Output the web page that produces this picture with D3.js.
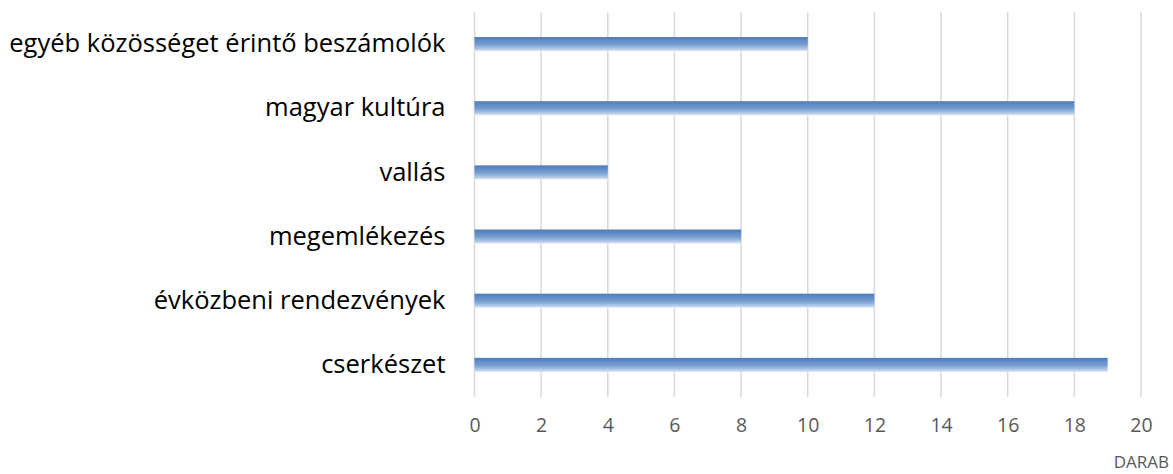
<!DOCTYPE html>
<html lang="hu">

<head>
  <meta charset="UTF-8">
  <title>Beszámolók</title>
  <script src="https://cdn.jsdelivr.net/npm/d3@7"></script>
  <style>
    body { margin: 0; background: #fff; }
    svg { display: block; }
    svg text { font-family: "Open Sans", "DejaVu Sans", sans-serif; }
  </style>
</head>

<body>
  <svg width="1173" height="474"></svg>
</body>
<script>
  const categories = [
    'egyéb közösséget érintő beszámolók',
    'magyar kultúra',
    'vallás',
    'megemlékezés',
    'évközbeni rendezvények',
    'cserkészet'
  ];
  const values = [10, 18, 4, 8, 12, 19];
  const xTicks = [0, 2, 4, 6, 8, 10, 12, 14, 16, 18, 20];
  const axisTitle = 'DARAB';

  const svg = d3.select('svg');
  const margin = { top: 12, right: 32, bottom: 77, left: 474.5 };
  const innerWidth = 1141 - margin.left;
  const innerHeight = 397 - margin.top;

  const g = svg.append('g')
    .attr('transform', `translate(${margin.left},${margin.top})`);

  const x = d3.scaleLinear().domain([0, 20]).range([0, innerWidth]);
  const y = d3.scaleBand().domain(categories).range([0, innerHeight]).paddingInner(0.78).paddingOuter(0.39);

  // gradient for the bars
  const grad = svg.append('defs').append('linearGradient')
    .attr('id', 'barGrad').attr('x1', 0).attr('y1', 0).attr('x2', 0).attr('y2', 1);
  grad.append('stop').attr('offset', '0%').attr('stop-color', '#4a7cbd');
  grad.append('stop').attr('offset', '55%').attr('stop-color', '#7a9fd2');
  grad.append('stop').attr('offset', '85%').attr('stop-color', '#b4c9e8');
  grad.append('stop').attr('offset', '100%').attr('stop-color', '#e3ebf6');

  // gridlines
  g.append('g')
    .selectAll('line')
    .data(xTicks)
    .join('line')
    .attr('x1', d => x(d)).attr('x2', d => x(d))
    .attr('y1', 0).attr('y2', innerHeight)
    .attr('stroke', '#d9d9d9')
    .attr('stroke-width', 1.5);

  // bars
  g.append('g')
    .selectAll('rect')
    .data(categories)
    .join('rect')
    .attr('x', x(0))
    .attr('y', d => y(d))
    .attr('width', (d, i) => x(values[i]) - x(0))
    .attr('height', y.bandwidth())
    .attr('fill', 'url(#barGrad)');

  // x axis labels
  const xAxis = g.append('g')
    .attr('transform', `translate(0,${innerHeight})`)
    .call(d3.axisBottom(x).tickValues(xTicks).tickSize(0).tickPadding(21));
  xAxis.select('.domain').remove();
  xAxis.selectAll('text')
    .attr('fill', '#595959')
    .style('font-size', '19.5px');

  // y axis labels
  const yAxis = g.append('g')
    .call(d3.axisLeft(y).tickSize(0).tickPadding(29));
  yAxis.select('.domain').remove();
  yAxis.selectAll('text')
    .attr('fill', '#000')
    .style('font-size', '25.5px');

  // axis title
  svg.append('text')
    .attr('x', 1169)
    .attr('y', 468)
    .attr('text-anchor', 'end')
    .attr('fill', '#595959')
    .style('font-size', '17px')
    .text(axisTitle);
</script>

</html>
